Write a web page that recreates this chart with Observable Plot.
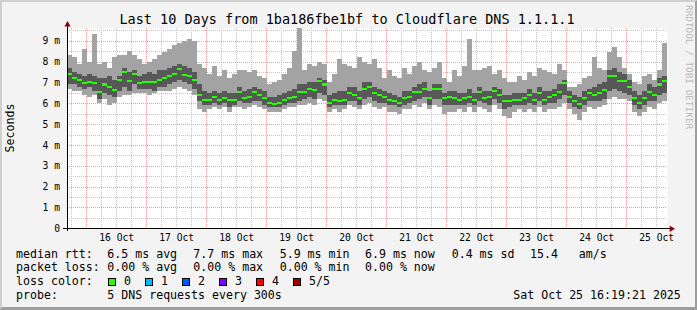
<!DOCTYPE html>
<html><head><meta charset="utf-8">
<script src="https://cdn.jsdelivr.net/npm/d3@7"></script>
<script src="https://cdn.jsdelivr.net/npm/@observablehq/plot@0.6"></script>
<style>
body{margin:0;background:#f3f3f3;}
#wrap{position:relative;width:697px;height:310px;background:#f3f3f3;font-family:"DejaVu Sans Mono",monospace;color:#000;overflow:hidden}
#frame{position:absolute;left:0;top:0;width:697px;height:310px;box-sizing:border-box;border-style:solid;border-width:2px 2px 3px 2px;border-color:#cfcfcf #9e9e9e #9e9e9e #cfcfcf;pointer-events:none}
.t{position:absolute;white-space:pre;line-height:1;}
.box{position:absolute;width:6px;height:6px;border:1px solid #000;}
#chart{position:absolute;left:0;top:20px;}
</style></head><body><div id="wrap"><div id="chart"></div><div id="frame"></div></div>
<script>
// ---- data (ms), 2-hour steps starting at Oct 15 16:19:21 2025 ----
const median = [7.4,7.2,7.1,6.95,7.0,6.95,6.55,6.9,6.8,6.65,7.1,7.5,7.05,7.4,6.95,7.0,7.0,7.0,7.1,7.2,
7.3,7.4,7.65,7.35,7.3,7.1,6.4,6.15,6.15,6.3,6.15,6.25,6.15,6.15,6.55,6.25,6.3,6.55,6.4,6.25,
6.0,5.95,6.0,6.15,6.25,6.3,6.55,6.55,6.7,6.65,7.05,6.9,6.0,6.15,6.1,6.15,6.5,6.4,6.25,6.7,
6.8,6.5,6.4,6.3,6.15,6.1,6.0,6.25,6.3,6.55,6.55,6.7,6.25,6.7,6.7,6.25,6.3,6.25,6.15,6.25,
6.3,6.15,6.55,6.25,6.3,6.6,6.4,6.1,6.1,6.15,6.15,6.25,6.4,6.15,6.5,6.15,6.3,6.4,6.55,6.95,
6.3,6.1,5.95,6.25,6.5,6.4,6.5,6.65,7.3,7.3,7.05,7.05,6.8,6.25,6.0,6.25,6.55,6.4,6.9,7.05];
const innerLo = [6.9,6.9,6.8,6.7,6.8,6.6,6.2,6.5,6.4,6.3,6.6,6.8,6.6,6.9,6.7,6.7,6.7,6.6,6.8,6.8,
6.9,7.0,7.1,7.0,6.9,6.7,6.1,5.9,5.9,6.0,5.9,6.0,5.8,5.9,6.1,6.0,6.0,6.1,6.1,5.9,
5.8,5.8,5.8,5.9,6.0,6.0,6.1,6.2,6.3,6.2,6.5,6.4,5.8,5.9,5.9,5.9,6.1,6.1,5.9,6.2,
6.3,6.1,6.0,6.0,5.9,5.9,5.8,5.9,6.0,6.1,6.2,6.3,5.9,6.2,6.2,5.9,5.9,5.9,5.9,5.9,
6.0,5.9,6.1,6.0,5.9,6.2,6.0,5.7,5.8,5.9,5.9,5.9,6.0,5.9,6.1,5.9,6.0,6.0,6.2,6.4,
6.0,5.8,5.7,5.9,6.1,6.1,6.1,6.2,6.6,6.7,6.6,6.5,6.4,5.9,5.7,5.9,6.1,6.1,6.4,6.5];
const innerHi = [7.7,7.5,7.4,7.3,7.4,7.3,7.2,7.2,7.3,7.1,7.3,7.7,7.5,7.6,7.3,7.4,7.5,7.4,7.6,7.6,
7.7,7.8,7.9,7.8,7.7,7.5,6.9,6.6,6.5,6.6,6.5,6.6,6.5,6.5,6.8,6.6,6.7,6.8,6.7,6.6,
6.3,6.3,6.4,6.5,6.6,6.7,6.9,6.9,7.0,7.0,7.2,7.1,6.4,6.5,6.6,6.6,6.8,6.8,6.6,7.0,
7.0,6.8,6.7,6.6,6.5,6.4,6.3,6.6,6.6,6.8,6.9,7.0,6.6,6.9,6.9,6.5,6.6,6.6,6.5,6.5,
6.7,6.5,6.8,6.6,6.6,6.8,6.7,6.4,6.4,6.5,6.5,6.5,6.7,6.5,6.8,6.6,6.6,6.7,6.9,7.1,
6.6,6.4,6.3,6.6,6.7,6.8,6.9,7.0,7.6,7.7,7.5,7.4,7.1,6.6,6.4,6.6,6.9,6.8,7.2,7.3];
const outerLo = [6.7,6.6,6.6,6.4,6.3,6.4,6.0,6.2,5.9,6.0,6.3,6.4,6.4,6.5,6.5,6.5,6.4,6.5,6.6,6.6,
6.6,6.7,6.8,6.7,6.6,6.4,5.7,5.6,5.7,5.8,5.7,5.8,5.6,5.8,5.8,5.7,5.8,5.9,5.8,5.7,
5.6,5.6,5.6,5.7,5.8,5.8,5.9,5.9,6.0,5.9,6.2,6.1,5.6,5.7,5.6,5.7,5.9,5.8,5.7,5.9,
6.0,5.8,5.7,5.8,5.6,5.6,5.5,5.7,5.7,5.9,5.8,6.0,5.7,5.9,5.8,5.5,5.6,5.6,5.7,5.6,
5.8,5.6,5.8,5.7,5.6,5.9,5.7,5.4,5.3,5.6,5.7,5.6,5.7,5.6,5.8,5.6,5.7,5.7,5.8,6.0,
5.7,5.5,5.2,5.6,5.8,5.7,5.8,5.9,6.2,6.3,6.2,6.2,6.1,5.6,5.4,5.6,5.8,5.7,6.0,6.1];
const outerHi = [8.3,8.2,7.9,8.6,8.0,9.3,7.9,8.0,7.7,8.2,8.3,8.3,8.5,8.3,8.1,7.9,8.0,8.1,8.3,8.45,
8.6,8.8,8.9,9.0,9.1,9.0,7.9,7.7,7.4,7.8,7.3,7.6,7.2,7.4,7.6,7.6,7.5,7.6,7.3,7.2,
6.9,7.0,7.1,7.4,7.7,8.5,9.6,7.6,7.9,7.8,8.0,7.9,7.0,7.4,8.1,7.9,7.8,7.7,8.2,8.0,
7.9,8.1,7.7,7.2,7.6,7.3,7.2,7.7,7.4,7.8,8.0,7.6,7.5,7.7,8.0,7.2,7.0,7.6,7.3,7.8,
9.1,7.6,7.6,7.7,7.8,7.4,7.6,7.2,7.0,7.0,7.3,7.1,7.5,7.3,7.7,7.6,7.5,7.4,7.9,7.6,
6.8,6.8,6.9,7.2,7.3,8.2,7.7,7.6,8.45,8.7,8.2,7.7,7.4,7.0,6.9,7.3,7.4,7.1,7.6,8.9];

const yTicks = [0,1,2,3,4,5,6,7,8,9];
const yTickLabels = ["0","1 m","2 m","3 m","4 m","5 m","6 m","7 m","8 m","9 m"];
const dayLabels = ["16 Oct","17 Oct","18 Oct","19 Oct","20 Oct","21 Oct","22 Oct","23 Oct","24 Oct","25 Oct"];
const lossLabels = ["0","1","2","3","4","5/5"];
const lossColors = ["#26ff00","#00b8ff","#0059ff","#7e00ff","#ff0000","#a10000"];
const title = "Last 10 Days from 1ba186fbe1bf to Cloudflare DNS 1.1.1.1";
const statRtt = ["6.5 ms avg","7.7 ms max","5.9 ms min","6.9 ms now","0.4 ms sd","15.4   am/s"];
const statLoss = ["0.00 % avg","0.00 % max","0.00 % min","0.00 % now"];
const probeText = "5 DNS requests every 300s";
const stampText = "Sat Oct 25 16:19:21 2025";

// ---- build ----
const start = Date.UTC(2025, 9, 15, 16, 19, 21);
const HOUR = 3600e3;
const end = start + 240 * HOUR;
const STEP = 2 * HOUR;
const rows = median.map((m, i) => ({
  t0: new Date(start + i * STEP), t1: new Date(start + (i + 1) * STEP),
  m, a: innerLo[i], b: innerHi[i], lo: outerLo[i], hi: outerHi[i]
}));
const sixH = d3.utcHour.every(6).range(new Date(start), new Date(end));
const xMajor = sixH.filter(d => d.getUTCHours() === 0);
const xMinor = sixH.filter(d => d.getUTCHours() !== 0);
const noons = sixH.filter(d => d.getUTCHours() === 12);
const yMinor = yTicks.map(v => v + 0.5);
const yMajor = yTicks.slice(1);
const gridStyle = {strokeOpacity: 1, strokeDasharray: "1,1", shapeRendering: "crispEdges"};

const chart = Plot.plot({
  width: 697, height: 226,
  marginLeft: 67, marginRight: 30, marginTop: 8.2, marginBottom: 17.7,
  x: {type: "utc", domain: [new Date(start), new Date(end)], label: null},
  y: {domain: [0, 9.6], label: null},
  style: {background: "none", fontFamily: '"DejaVu Sans Mono", monospace', fontSize: "9.7px", color: "#000", overflow: "visible"},
  marks: [
    Plot.frame({fill: "#fff", stroke: null}),
    Plot.gridY({ticks: yMinor, stroke: "#c4c4c4", ...gridStyle}),
    Plot.gridX({ticks: xMinor, stroke: "#c4c4c4", ...gridStyle}),
    Plot.gridY({ticks: yMajor, stroke: "#ec9a9a", ...gridStyle}),
    Plot.gridX({ticks: xMajor, stroke: "#ec9a9a", ...gridStyle}),
    Plot.rect(rows, {x1: "t0", x2: "t1", y1: "lo", y2: "hi", fill: "#a3a3a3", shapeRendering: "crispEdges"}),
    Plot.rect(rows, {x1: "t0", x2: "t1", y1: "a", y2: "b", fill: "#585858", shapeRendering: "crispEdges"}),
    Plot.rect(rows, {x1: "t0", x2: "t1", y1: d => d.m - 0.05, y2: d => d.m + 0.05, fill: lossColors[0], shapeRendering: "crispEdges"}),
    Plot.ruleY([0], {stroke: "#000", insetLeft: -4, insetRight: -3, shapeRendering: "crispEdges"}),
    Plot.ruleX([new Date(start)], {stroke: "#000", insetTop: -5, insetBottom: -3, shapeRendering: "crispEdges"}),
    Plot.dot([new Date(start)], {x: d => d, frameAnchor: "top", dy: -4, symbol: "triangle", r: 2.3, fill: "#8b0000", stroke: null}),
    Plot.dot([0], {y: d => d, frameAnchor: "right", dx: 4, rotate: 90, symbol: "triangle", r: 2.3, fill: "#8b0000", stroke: null}),
    Plot.axisY({ticks: yTicks, tickFormat: d => yTickLabels[yTicks.indexOf(d)], tickSize: 0, tickPadding: 7.5, label: null}),
    Plot.axisX({ticks: noons, tickFormat: (d) => dayLabels[noons.findIndex(n => +n === +d)], tickSize: 0, tickPadding: 5.5, label: null})
  ]
});
document.getElementById("chart").appendChild(chart);

// ---- texts ----
const wrap = document.getElementById("wrap");
function addText(txt, x, baseline, size, extra) {
  const el = document.createElement("div");
  el.className = "t";
  el.textContent = txt;
  el.style.fontSize = size + "px";
  el.style.left = x + "px";
  el.style.top = (baseline - 0.846 * size) + "px";
  if (extra) Object.assign(el.style, extra);
  wrap.appendChild(el);
  return el;
}
const LF = 11.6;
addText(title, 347, 24, 13.5, {transform: "translateX(-50%)"});
addText("Seconds", 11, 128, LF, {transform: "translate(-50%,-50%) rotate(-90deg)", top: "128px"});
addText("RRDTOOL / TOBI OETIKER", 685, 5, 9.4, {writingMode: "vertical-rl", top: "5px", color: "#b9b9b9"});

const rowsY = [258.5, 272.2, 285.9, 299.6];
const colX = [107.3, 193.3, 279.7, 365, 451.7, 530];
addText("median rtt:", 16, rowsY[0], LF);
statRtt.forEach((s, i) => addText(s, colX[i], rowsY[0], LF));
addText("packet loss:", 16, rowsY[1], LF);
statLoss.forEach((s, i) => addText(s, colX[i], rowsY[1], LF));
addText("loss color:", 16, rowsY[2], LF);
lossLabels.forEach((s, i) => {
  const bx = 108.3 + i * 37;
  const b = document.createElement("div");
  b.className = "box";
  b.style.left = bx + "px";
  b.style.top = (rowsY[2] - 7.6) + "px";
  b.style.background = lossColors[i];
  wrap.appendChild(b);
  addText(s, bx + 15.7, rowsY[2], LF);
});
addText("probe:", 16, rowsY[3], LF);
addText(probeText, 107.3, rowsY[3], LF);
addText(stampText, 513.3, rowsY[3], LF);
</script></body></html>
